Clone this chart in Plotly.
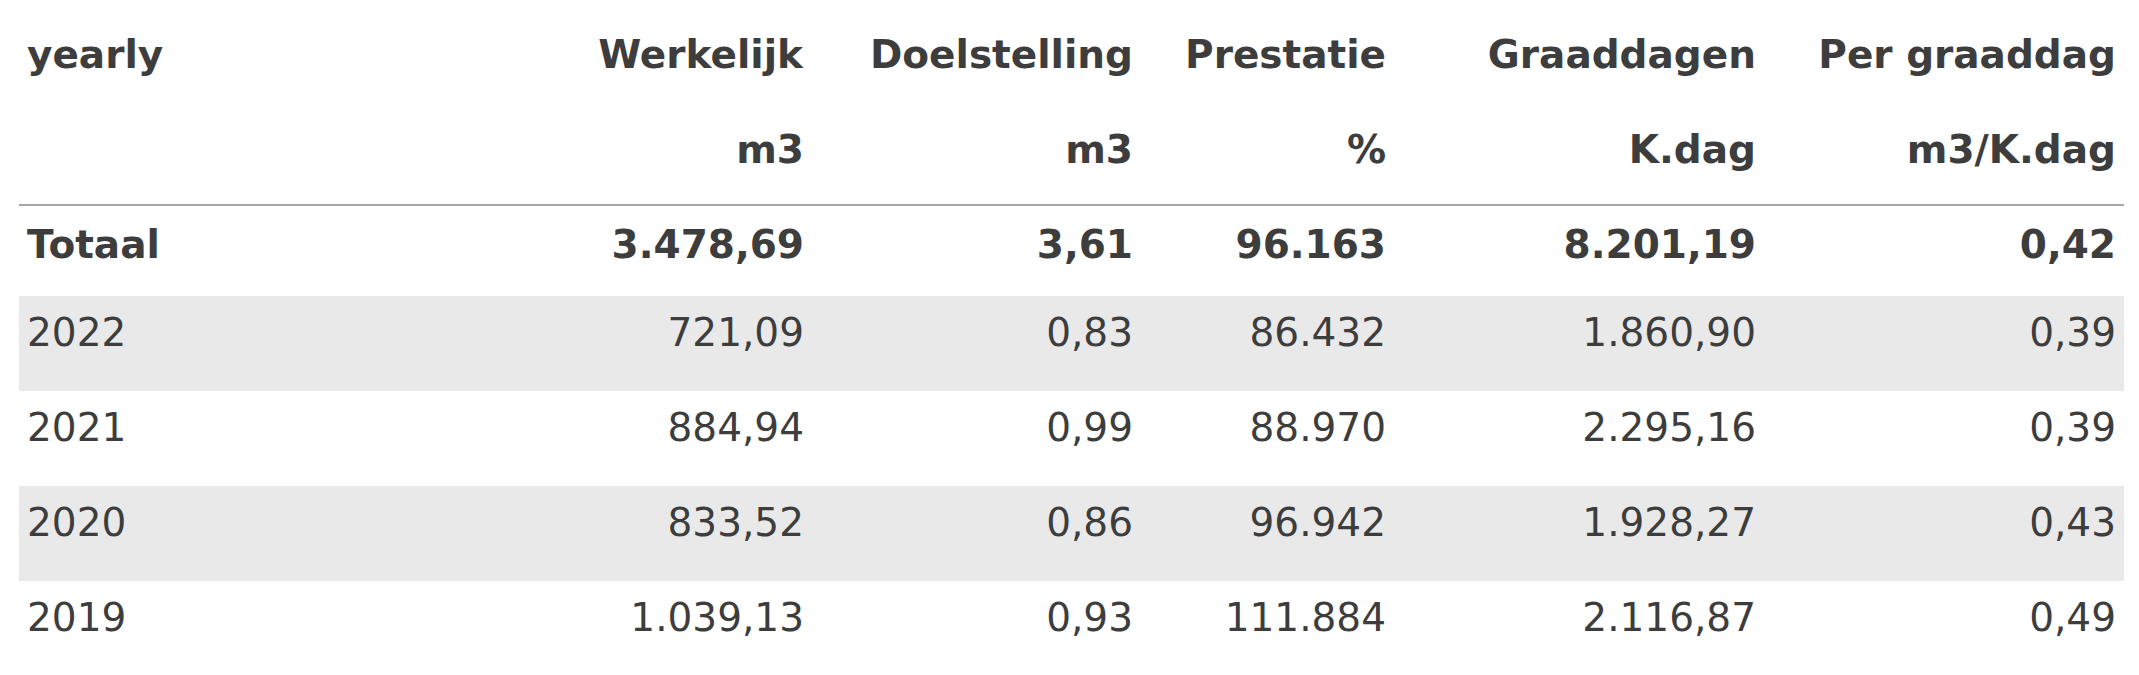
import plotly.graph_objects as go

# Data
columns = ["yearly", "Werkelijk", "Doelstelling", "Prestatie", "Graaddagen", "Per graaddag"]
units = ["", "m3", "m3", "%", "K.dag", "m3/K.dag"]
row_labels = ["Totaal", "2022", "2021", "2020", "2019"]
werkelijk = ["3.478,69", "721,09", "884,94", "833,52", "1.039,13"]
doelstelling = ["3,61", "0,83", "0,99", "0,86", "0,93"]
prestatie = ["96.163", "86.432", "88.970", "96.942", "111.884"]
graaddagen = ["8.201,19", "1.860,90", "2.295,16", "1.928,27", "2.116,87"]
per_graaddag = ["0,42", "0,39", "0,39", "0,43", "0,49"]

W, H = 2139, 675
data_cols = [row_labels, werkelijk, doelstelling, prestatie, graaddagen, per_graaddag]

# build cell table: header rows + unit row + data rows
cells = []
for i, col in enumerate(data_cols):
  vals = ["<b>" + columns[i] + "</b>", "<b>" + units[i] + "</b>"]
  for j, v in enumerate(col):
    vals.append("<b>" + v + "</b>" if j == 0 else v)
  cells.append(vals)

row_fill = ["white", "white", "white", "#e9e9e9", "white", "#e9e9e9", "white"]
aligns = ["left"] + ["right"] * 5
widths = [389, 404, 329, 253, 370, 360]
xdom = [11 / W, 2116 / W]
empty_header = dict(values=[""] * 6, height=0, fill_color="rgba(0,0,0,0)", line_width=0)
no_line = dict(color="rgba(0,0,0,0)", width=0)

fig = go.Figure()
# background bands
fig.add_trace(go.Table(
  columnwidth=widths, header=empty_header,
  cells=dict(values=[[""] * 7] * 6, height=95, fill_color=[row_fill] * 6, line=no_line),
  domain=dict(x=xdom, y=[0, 1 - 3 / H]),
))
# text (shifted down so it sits mid-row)
fig.add_trace(go.Table(
  columnwidth=widths, header=empty_header,
  cells=dict(values=cells, align=aligns, height=95,
             fill_color="rgba(0,0,0,0)", line=no_line,
             font=dict(family="DejaVu Sans", size=39, color="#3d3d3d")),
  domain=dict(x=xdom, y=[0, 1 - 16 / H]),
))

# rule lines under header and at bottom
for yy in [197, 672]:
  fig.add_shape(type="line", xref="paper", yref="paper",
                x0=11 / W, x1=2116 / W, y0=1 - yy / H, y1=1 - yy / H,
                line=dict(color="#a8a8a8", width=2))

fig.update_layout(width=W, height=H, margin=dict(l=0, r=0, t=0, b=0),
                  paper_bgcolor="white", plot_bgcolor="white")
fig.write_html("out.html")
